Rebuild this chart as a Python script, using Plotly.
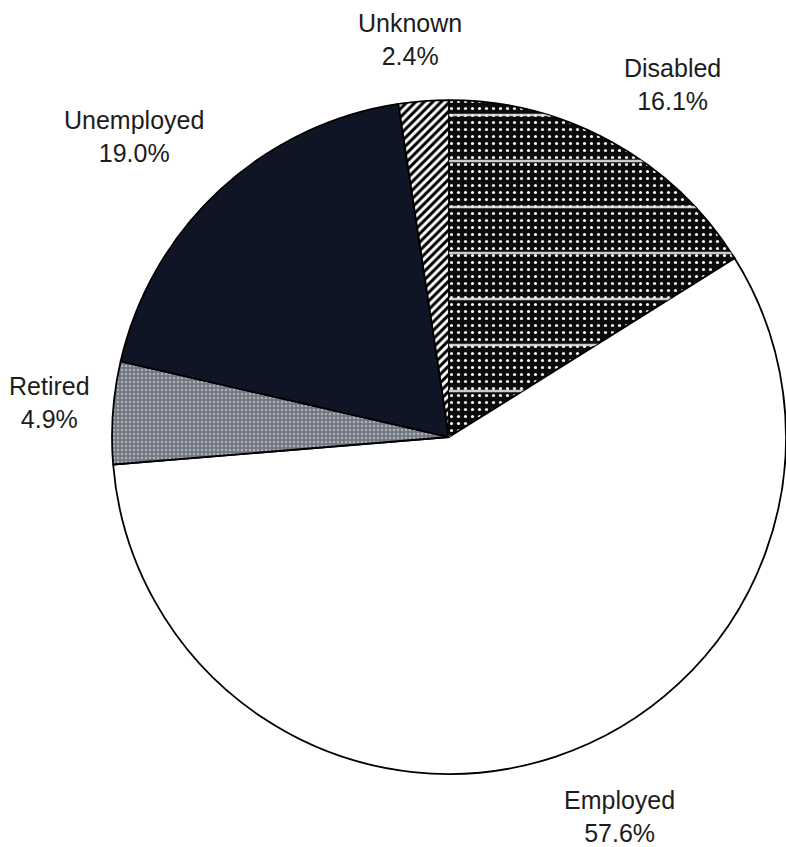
import math
import plotly.graph_objects as go

# Employment status shares, clockwise from 12 o'clock
categories = ["Disabled", "Employed", "Retired", "Unemployed", "Unknown"]
shares = [16.1, 57.6, 4.9, 19.0, 2.4]

fills = ["#0b0b0b", "#ffffff", "#737783", "#101526", "#ffffff"]
pattern_shapes = [".", "", ".", "", "/"]
pattern_fg = ["#f4f4f4", "#000000", "#aeb1b9", "#000000", "#000000"]
pattern_bg = ["#0b0b0b", "#ffffff", "#737783", "#101526", "#ffffff"]
pattern_size = [7, 8, 4, 8, 6]
pattern_solidity = [0.16, 0.3, 0.3, 0.3, 0.5]

W, H = 786, 847
dom_x = [0.1425, 1.0]
dom_y = [0.0862, 0.8819]
domain = dict(x=dom_x, y=dom_y)

FONT = dict(family="Liberation Sans, Arial, sans-serif", size=25, color="#1c1c1c")

fig = go.Figure()

# Main pie with textured fills
fig.add_trace(go.Pie(
    labels=categories,
    values=shares,
    sort=False,
    direction="clockwise",
    rotation=0,
    domain=domain,
    marker=dict(
        colors=fills,
        line=dict(color="#000000", width=1.8),
        pattern=dict(
            shape=pattern_shapes,
            fgcolor=pattern_fg,
            bgcolor=pattern_bg,
            size=pattern_size,
            solidity=pattern_solidity,
            fillmode="replace",
        ),
    ),
    textinfo="none",
    showlegend=False,
    hoverinfo="label+value",
))

# Overlay: horizontal rules across the dotted slice
fig.add_trace(go.Pie(
    labels=categories,
    values=shares,
    sort=False,
    direction="clockwise",
    rotation=0,
    domain=domain,
    marker=dict(
        colors=["rgba(0,0,0,0)"] * 5,
        line=dict(width=0),
        pattern=dict(
            shape=["-", "", "", "", ""],
            fgcolor=["rgba(235,235,235,0.85)"] + ["rgba(0,0,0,0)"] * 4,
            bgcolor=["rgba(0,0,0,0)"] * 5,
            size=[46, 8, 8, 8, 8],
            solidity=[0.05, 0.3, 0.3, 0.3, 0.3],
            fillmode="replace",
        ),
    ),
    textinfo="none",
    showlegend=False,
    hoverinfo="skip",
))

# Outside labels, placed along each slice's mid-angle just beyond the rim
cx = (dom_x[0] + dom_x[1]) / 2 * W
cy = (1 - (dom_y[0] + dom_y[1]) / 2) * H
r = min((dom_x[1] - dom_x[0]) * W, (dom_y[1] - dom_y[0]) * H) / 2
gap_x, gap_y = 21, 29
total = sum(shares)
cum = 0.0
for cat, v in zip(categories, shares):
    mid = (cum + v / 2) / total * 2 * math.pi
    cum += v
    ux, uy = math.sin(mid), -math.cos(mid)
    px = cx + (r + gap_x) * ux
    py = cy + (r + gap_y) * uy
    text = f"{cat}<br>{v:.1f}%"
    w_est = 0.55 * FONT["size"] * max(len(cat), len(f"{v:.1f}%"))
    h_est = 2.6 * FONT["size"]
    if abs(ux) >= 0.3:
        xanchor, xshift = ("left" if ux > 0 else "right"), 0
    else:
        xanchor = "center"
        xshift = math.copysign(abs(ux) / 0.3 * w_est / 2, ux)
    if abs(uy) >= 0.3:
        yanchor, yshift = ("top" if uy > 0 else "bottom"), 0
    else:
        yanchor = "middle"
        yshift = -math.copysign(abs(uy) / 0.3 * h_est / 2, uy)
    fig.add_annotation(
        x=px / W, y=1 - py / H, xref="paper", yref="paper",
        text=text, showarrow=False, align="center",
        xanchor=xanchor, yanchor=yanchor, xshift=xshift, yshift=yshift,
        font=FONT,
    )

fig.update_layout(
    width=W,
    height=H,
    margin=dict(l=0, r=0, t=0, b=0),
    paper_bgcolor="#ffffff",
    plot_bgcolor="#ffffff",
)

fig.write_html("out.html")
